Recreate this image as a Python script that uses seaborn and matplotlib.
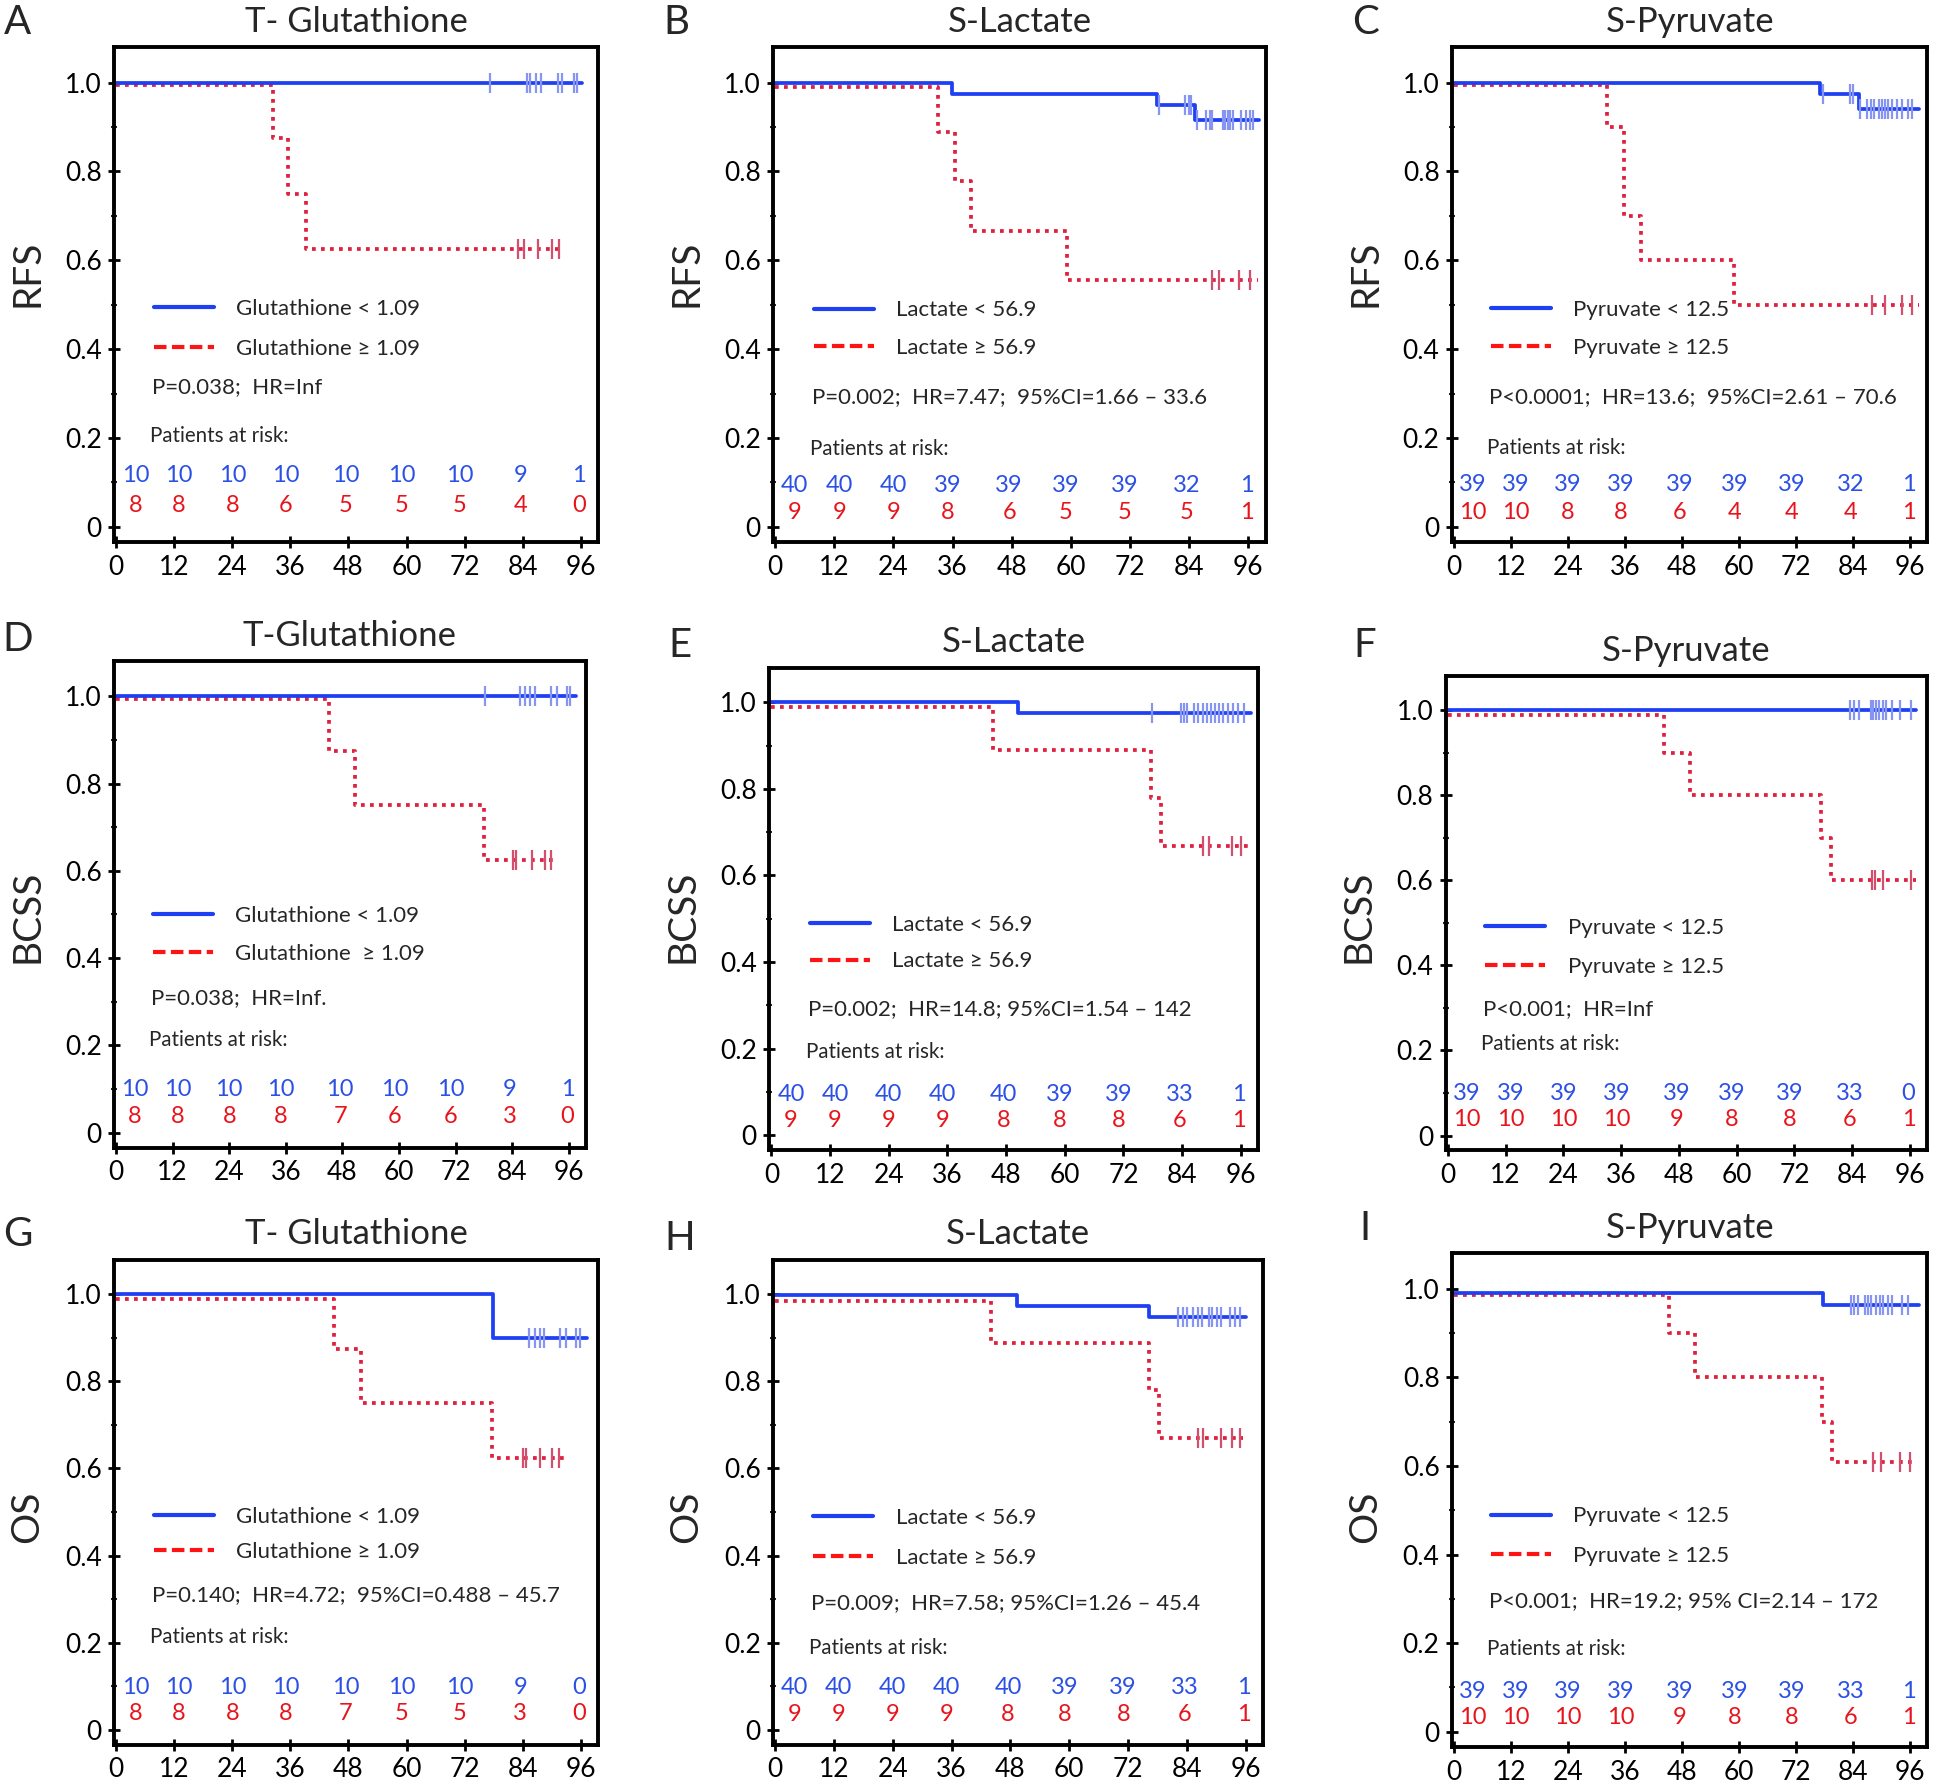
import numpy as np
import pandas as pd
import matplotlib
matplotlib.use("Agg")
import matplotlib.pyplot as plt
import seaborn as sns
from matplotlib.lines import Line2D

sns.set_theme(style="ticks")
plt.rcParams["font.family"] = ["Lato", "DejaVu Sans"]

# ---- data ----
letters = list("ABCDEFGHI")
titles = ["T- Glutathione", "S-Lactate", "S-Pyruvate",
          "T-Glutathione", "S-Lactate", "S-Pyruvate",
          "T- Glutathione", "S-Lactate", "S-Pyruvate"]
endpoints = ["RFS", "RFS", "RFS", "BCSS", "BCSS", "BCSS", "OS", "OS", "OS"]
low_labels = ["Glutathione < 1.09", "Lactate < 56.9", "Pyruvate < 12.5"] * 3
high_labels = ["Glutathione \u2265 1.09", "Lactate \u2265 56.9", "Pyruvate \u2265 12.5",
               "Glutathione  \u2265 1.09", "Lactate \u2265 56.9", "Pyruvate \u2265 12.5",
               "Glutathione \u2265 1.09", "Lactate \u2265 56.9", "Pyruvate \u2265 12.5"]
stats = ["P=0.038;  HR=Inf",
         "P=0.002;  HR=7.47;  95%CI=1.66 \u2013 33.6",
         "P<0.0001;  HR=13.6;  95%CI=2.61 \u2013 70.6",
         "P=0.038;  HR=Inf.",
         "P=0.002;  HR=14.8; 95%CI=1.54 \u2013 142",
         "P<0.001;  HR=Inf",
         "P=0.140;  HR=4.72;  95%CI=0.488 \u2013 45.7",
         "P=0.009;  HR=7.58; 95%CI=1.26 \u2013 45.4",
         "P<0.001;  HR=19.2; 95% CI=2.14 \u2013 172"]

risk_times = [0, 12, 24, 36, 48, 60, 72, 84, 96]
risk_low = [[10, 10, 10, 10, 10, 10, 10, 9, 1],
            [40, 40, 40, 39, 39, 39, 39, 32, 1],
            [39, 39, 39, 39, 39, 39, 39, 32, 1],
            [10, 10, 10, 10, 10, 10, 10, 9, 1],
            [40, 40, 40, 40, 40, 39, 39, 33, 1],
            [39, 39, 39, 39, 39, 39, 39, 33, 0],
            [10, 10, 10, 10, 10, 10, 10, 9, 0],
            [40, 40, 40, 40, 40, 39, 39, 33, 1],
            [39, 39, 39, 39, 39, 39, 39, 33, 1]]
risk_high = [[8, 8, 8, 6, 5, 5, 5, 4, 0],
             [9, 9, 9, 8, 6, 5, 5, 5, 1],
             [10, 10, 8, 8, 6, 4, 4, 4, 1],
             [8, 8, 8, 8, 7, 6, 6, 3, 0],
             [9, 9, 9, 9, 8, 8, 8, 6, 1],
             [10, 10, 10, 10, 9, 8, 8, 6, 1],
             [8, 8, 8, 8, 7, 5, 5, 3, 0],
             [9, 9, 9, 9, 8, 8, 8, 6, 1],
             [10, 10, 10, 10, 9, 8, 8, 6, 1]]

# Kaplan-Meier steps (time in months, survival) and censoring times
low_t = [[0, 96.3], [0, 35.8, 77.5, 85.3, 98.1], [0, 77.1, 85.3, 97.8],
         [0, 97.6], [0, 50.5, 98.1], [0, 97.3],
         [0, 77.9, 97.3], [0, 49.4, 76.3, 96.0], [0, 77.7, 97.8]]
low_s = [[1.0, 1.0], [1.0, 0.975, 0.95, 0.915, 0.915], [1.0, 0.974, 0.94, 0.94],
         [1.0, 1.0], [1.0, 0.975, 0.975], [1.0, 1.0],
         [1.0, 0.9, 0.9], [0.998, 0.973, 0.948, 0.948], [0.99, 0.964, 0.964]]
low_c = [[77.3, 84.8, 85.6, 86.7, 87.8, 91.2, 92.2, 94.7, 95.2],
         [77.9, 83.2, 83.9, 84.5, 85.6, 87.4, 88.3, 88.7, 90.8, 91.4, 91.9, 92.3, 92.9, 94.6, 95.5, 96.4, 97.0],
         [77.7, 83.4, 84.0, 85.4, 87.0, 87.7, 88.3, 89.4, 90.0, 90.6, 91.3, 92.2, 93.2, 94.3, 95.6, 96.3],
         [78.3, 85.7, 86.7, 87.7, 88.9, 92.2, 93.4, 95.7, 96.3],
         [77.8, 83.7, 84.3, 84.9, 86.5, 87.3, 88.2, 89.1, 89.9, 90.8, 91.5, 92.3, 93.4, 94.4, 95.5, 96.6],
         [83.6, 84.4, 85.3, 87.8, 88.3, 88.9, 89.6, 90.3, 91.0, 92.2, 93.9, 96.2],
         [85.3, 86.6, 87.5, 88.3, 91.7, 93.0, 95.1, 95.8],
         [82.2, 83.1, 84.0, 85.3, 86.2, 87.1, 88.4, 89.2, 90.1, 91.0, 92.7, 93.8, 94.9],
         [83.5, 84.2, 85.1, 86.4, 87.2, 87.8, 88.7, 89.6, 90.2, 91.3, 92.1, 94.3, 95.6]]
high_t = [[0, 32.5, 35.6, 39.3, 92.4], [0, 33.1, 36.4, 39.7, 59.3, 97.9],
          [0, 32.3, 35.7, 39.4, 59.0, 97.8], [0, 45.2, 50.6, 78.0, 93.2],
          [0, 45.3, 77.7, 79.7, 97.7], [0, 45.0, 50.4, 77.6, 79.5, 97.3],
          [0, 45.1, 50.6, 77.7, 93.4], [0, 44.0, 76.3, 78.3, 95.4],
          [0, 45.3, 50.7, 77.5, 79.6, 97.3]]
high_s = [[0.995, 0.875, 0.75, 0.625, 0.625], [0.99, 0.889, 0.778, 0.667, 0.556, 0.556],
          [0.995, 0.9, 0.7, 0.6, 0.5, 0.5], [0.995, 0.875, 0.75, 0.625, 0.625],
          [0.99, 0.889, 0.778, 0.667, 0.667], [0.99, 0.9, 0.8, 0.7, 0.6, 0.6],
          [0.99, 0.875, 0.75, 0.625, 0.625], [0.985, 0.889, 0.78, 0.67, 0.67],
          [0.985, 0.9, 0.8, 0.7, 0.61, 0.61]]
high_c = [[83.1, 84.2, 87.2, 90.0, 91.6], [88.6, 90.0, 94.1, 96.4],
          [87.9, 90.6, 94.3, 96.4], [84.1, 84.8, 88.3, 91.0, 92.3],
          [88.2, 89.5, 94.2, 96.1], [88.1, 88.7, 90.4, 96.1],
          [84.1, 84.7, 87.6, 90.0, 91.5], [86.2, 87.2, 91.0, 93.2, 94.9],
          [88.2, 89.9, 93.9, 96.0]]

# ---- layout (reference pixels in a 1568x1440 frame) ----
W, H = 1568, 1440
axes_px = [[92, 38, 482, 437], [623, 38, 1020, 437], [1170, 38, 1553, 437],
           [92, 533, 472, 925], [620, 538, 1014, 927], [1165, 545, 1553, 927],
           [92, 1015, 482, 1406], [623, 1015, 1018, 1406], [1170, 1010, 1553, 1408]]
letter_px = [[14, 18], [545, 18], [1100, 18], [14, 515], [548, 520], [1100, 520],
             [14, 995], [548, 998], [1100, 990]]
ylabel_y = [220, 220, 220, 738, 738, 738, 1222, 1222, 1222]
# y (data units) of: legend row 1, legend row 2, stats, "Patients at risk", low numbers, high numbers
text_y = [[0.498, 0.393, 0.314, 0.204, 0.115, 0.049],
          [0.492, 0.398, 0.293, 0.174, 0.094, 0.033],
          [0.494, 0.398, 0.293, 0.178, 0.095, 0.033],
          [0.502, 0.406, 0.309, 0.213, 0.098, 0.037],
          [0.489, 0.399, 0.291, 0.192, 0.094, 0.034],
          [0.494, 0.392, 0.297, 0.215, 0.098, 0.037],
          [0.490, 0.408, 0.309, 0.213, 0.096, 0.036],
          [0.493, 0.387, 0.291, 0.188, 0.096, 0.034],
          [0.494, 0.390, 0.295, 0.187, 0.092, 0.033]]
risk_x = [4, 13, 24, 35, 47.5, 59, 71, 83.5, 95.7]

blue = "#1f3ff2"
red_line = "#e0203f"
blue_txt = "#2b50e6"
red_txt = "#e8141c"

fig = plt.figure(figsize=(19.46, 17.87), dpi=100)

for i in range(9):
    l, t, r, b = axes_px[i]
    ax = fig.add_axes([l / W, 1 - b / H, (r - l) / W, (b - t) / H])

    lo = pd.DataFrame({"time": low_t[i], "surv": low_s[i]})
    hi = pd.DataFrame({"time": high_t[i], "surv": high_s[i]})
    sns.lineplot(data=hi, x="time", y="surv", drawstyle="steps-post", estimator=None,
                 sort=False, color=red_line, lw=2.7, linestyle=(0, (1, 1.4)), ax=ax)
    sns.lineplot(data=lo, x="time", y="surv", drawstyle="steps-post", estimator=None,
                 sort=False, color=blue, lw=2.7, ax=ax)

    # censor marks on the step level at each censoring time
    for tt, ss, cc, col in [(low_t[i], low_s[i], low_c[i], "#8795f2"),
                            (high_t[i], high_s[i], high_c[i], "#d2506e")]:
        idx = np.searchsorted(tt, cc, side="right") - 1
        lev = np.asarray(ss)[idx]
        sns.scatterplot(x=cc, y=lev, marker="|", s=200, color=col, linewidth=1.6, ax=ax,
                        legend=False, zorder=4)

    ax.set_xlim(-0.4, 99.6)
    ax.set_ylim(-0.035, 1.08)
    ax.set_xticks(range(0, 97, 12))
    ax.set_yticks([0, 0.2, 0.4, 0.6, 0.8, 1.0])
    ax.set_yticklabels(["0", "0.2", "0.4", "0.6", "0.8", "1.0"])
    ax.set_yticks(np.arange(0.1, 1.0, 0.2), minor=True)
    ax.tick_params(axis="both", which="major", labelsize=19, direction="inout",
                   length=8, width=2, colors="black", pad=5)
    ax.tick_params(axis="y", which="minor", direction="inout", length=4, width=1.5)
    for sp in ax.spines.values():
        sp.set_visible(True)
        sp.set_linewidth(2.8)
        sp.set_color("black")
    ax.set_xlabel("")
    ax.set_ylabel("")

    ty = text_y[i]
    handles = [Line2D([], [], color=blue, lw=3),
               Line2D([], [], color="#ff1414", lw=3, linestyle=(0, (3, 1.3)))]
    ax.legend(handles, [low_labels[i], high_labels[i]], loc="center left",
              bbox_to_anchor=(7.8, (ty[0] + ty[1]) / 2), bbox_transform=ax.transData,
              frameon=False, fontsize=16, handlelength=2.7, handletextpad=1.0,
              labelspacing=(ty[0] - ty[1]) * 8.4, borderpad=0, borderaxespad=0)
    ax.text(7.4, ty[2], stats[i], fontsize=16, va="center", ha="left")
    ax.text(7.0, ty[3], "Patients at risk:", fontsize=14.8, va="center", ha="left")
    for k in range(len(risk_times)):
        ax.text(risk_x[k], ty[4], str(risk_low[i][k]), color=blue_txt, fontsize=17,
                ha="center", va="center")
        ax.text(risk_x[k], ty[5], str(risk_high[i][k]), color=red_txt, fontsize=17,
                ha="center", va="center")

    ax.set_title(titles[i], fontsize=25, pad=11)
    lx, ly = letter_px[i]
    fig.text(lx / W, 1 - ly / H, letters[i], fontsize=29, ha="center", va="center")
    fig.text((l - 70) / W, 1 - ylabel_y[i] / H, endpoints[i], fontsize=28, rotation=90,
             ha="center", va="center")

fig.savefig("out.png", dpi=100)
